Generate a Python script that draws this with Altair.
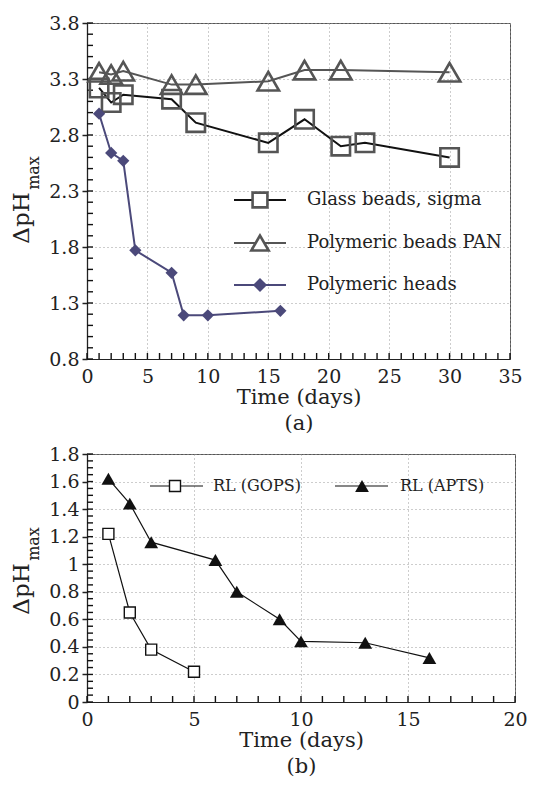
import altair as alt
import pandas as pd

FONT = "DejaVu Serif"
INK = "#222222"

# ---------------- Panel (a) data ----------------
glass_days = [1, 2, 3, 7, 9, 15, 18, 21, 23, 30]
glass_dph = [3.22, 3.09, 3.16, 3.12, 2.91, 2.73, 2.94, 2.70, 2.73, 2.60]
pan_days = [1, 2, 3, 7, 9, 15, 18, 21, 30]
pan_dph = [3.36, 3.34, 3.37, 3.25, 3.25, 3.28, 3.38, 3.38, 3.36]
heads_days = [1, 2, 3, 4, 7, 8, 10, 16]
heads_dph = [2.99, 2.64, 2.57, 1.77, 1.57, 1.19, 1.19, 1.23]
labels_a = ["Glass beads, sigma", "Polymeric beads PAN", "Polymeric heads"]
x_ticks_a = [0, 5, 10, 15, 20, 25, 30, 35]
x_minor_a = [float(v) for v in range(0, 36)]
y_ticks_a = [0.8, 1.3, 1.8, 2.3, 2.8, 3.3, 3.8]
y_minor_a = [round(0.8 + 0.1 * i, 2) for i in range(31)]

# ---------------- Panel (b) data ----------------
gops_days = [1, 2, 3, 5]
gops_dph = [1.22, 0.65, 0.38, 0.22]
apts_days = [1, 2, 3, 6, 7, 9, 10, 13, 16]
apts_dph = [1.62, 1.44, 1.16, 1.03, 0.80, 0.60, 0.44, 0.43, 0.32]
labels_b = ["RL (GOPS)", "RL (APTS)"]
x_ticks_b = [0, 5, 10, 15, 20]
x_minor_b = [float(v) for v in range(0, 21)]
y_ticks_b = [0, 0.2, 0.4, 0.6, 0.8, 1, 1.2, 1.4, 1.6, 1.8]
y_minor_b = [round(0.05 * i, 2) for i in range(37)]

one = pd.DataFrame({"k": [0]})
LBL = 19


def df(days, vals):
    return pd.DataFrame({"day": days, "dph": vals})


def main_x(domain, ticks, title):
    return alt.X("day:Q", scale=alt.Scale(domain=domain, nice=False, zero=False),
                 axis=alt.Axis(values=ticks, grid=True, gridDash=[1, 3], gridColor="#9a9a9a",
                               ticks=False, domain=True, domainColor=INK,
                               labelFont=FONT, labelFontSize=LBL, labelColor=INK,
                               labelPadding=8, labelFlush=False, labelOverlap=False,
                               title=title, titleFont=FONT, titleFontSize=21,
                               titleFontWeight=400, titleColor=INK,
                               titleLineHeight=26, titlePadding=0))


def main_y(domain, ticks, fmt):
    return alt.Y("dph:Q", scale=alt.Scale(domain=domain, nice=False, zero=False),
                 axis=alt.Axis(values=ticks, grid=True, gridDash=[1, 3], gridColor="#9a9a9a",
                               ticks=True, tickSize=5, tickColor=INK, tickWidth=1.5,
                               domain=True, domainColor=INK, domainWidth=1.3,
                               labelFont=FONT, labelFontSize=LBL, labelColor=INK, format=fmt,
                               labelPadding=3, labelFlush=False, labelOverlap=False, title=None))


def plain_x(domain):
    return alt.X("day:Q", scale=alt.Scale(domain=domain, nice=False, zero=False), axis=None)


def plain_y(domain):
    return alt.Y("dph:Q", scale=alt.Scale(domain=domain, nice=False, zero=False), axis=None)


def minor_ticks(xdom, ydom, xminor, yminor, height):
    tx = alt.Chart(pd.DataFrame({"day": xminor, "dph": [ydom[0]] * len(xminor)})).mark_rule(
        color="#111111", strokeWidth=1.4, opacity=1).encode(
        x=plain_x(xdom), y=alt.value(height), y2=alt.value(height - 6))
    ty = alt.Chart(pd.DataFrame({"dph": yminor, "day": [xdom[0]] * len(yminor)})).mark_rule(
        color="#111111", strokeWidth=1.4, opacity=1).encode(
        y=plain_y(ydom), x=alt.value(0), x2=alt.value(6))
    return [tx, ty]


def legend_entry(x0, x1, xm, xt, y, lcolor, lwidth, shape, size, mcolor, filled, mwidth, label, fs):
    rule = alt.Chart(one).mark_rule(color=lcolor, strokeWidth=lwidth).encode(
        x=alt.value(x0), x2=alt.value(x1), y=alt.value(y))
    pt = alt.Chart(one).mark_point(shape=shape, size=size, color=mcolor, filled=filled,
                                   strokeWidth=mwidth, opacity=1, fill=mcolor if filled else "white"
                                   ).encode(x=alt.value(xm), y=alt.value(y))
    txt = alt.Chart(one).mark_text(text=label, align="left", baseline="middle", font=FONT,
                                   fontSize=fs, color=INK).encode(x=alt.value(xt), y=alt.value(y))
    return [rule, pt, txt]


def ytitle(xc, yc, xs, ys):
    a = alt.Chart(one).mark_text(text="\u0394pH", angle=270, align="center", baseline="middle",
                                 font=FONT, fontSize=23, color=INK).encode(
        x=alt.value(xc), y=alt.value(yc))
    b = alt.Chart(one).mark_text(text="max", angle=270, align="center", baseline="middle",
                                 font=FONT, fontSize=16, color=INK).encode(
        x=alt.value(xs), y=alt.value(ys))
    return [a, b]


# ---------------- Panel (a) ----------------
XA = [0, 35]
YA = [0.8, 3.8]
HA = 336
GRAY = "#555555"
PURP = "#4b497a"
dg, dp, dh = df(glass_days, glass_dph), df(pan_days, pan_dph), df(heads_days, heads_dph)

a_layers = [
    alt.Chart(dg).mark_line(color="#111111", strokeWidth=2).encode(
        x=main_x(XA, x_ticks_a, ["Time (days)", "(a)"]), y=main_y(YA, y_ticks_a, ".1f")),
]
a_layers += minor_ticks(XA, YA, x_minor_a, y_minor_a, HA)
a_layers += [
    alt.Chart(dg).mark_point(shape="square", size=340, filled=False, color=GRAY, strokeWidth=2.6,
                             opacity=1).encode(x=plain_x(XA), y=plain_y(YA)),
    alt.Chart(dp).mark_line(color=GRAY, strokeWidth=2).encode(x=plain_x(XA), y=plain_y(YA)),
    alt.Chart(dp).mark_point(shape="triangle-up", size=460, filled=False, color=GRAY,
                             strokeWidth=2.6, opacity=1).encode(x=plain_x(XA), y=plain_y(YA)),
    alt.Chart(dh).mark_line(color=PURP, strokeWidth=2).encode(x=plain_x(XA), y=plain_y(YA)),
    alt.Chart(dh).mark_point(shape="diamond", size=150, filled=True, color=PURP,
                             opacity=1).encode(x=plain_x(XA), y=plain_y(YA)),
]
a_layers += legend_entry(147, 199, 173, 220, 177, "#111111", 2.2, "square", 220, GRAY, False, 2.6,
                         labels_a[0], 18)
a_layers += legend_entry(147, 199, 173, 220, 220, GRAY, 2.2, "triangle-up", 300, GRAY, False, 2.6,
                         labels_a[1], 18)
a_layers += legend_entry(147, 199, 173, 220, 262, PURP, 2.2, "diamond", 200, PURP, True, 1,
                         labels_a[2], 18)
a_layers += ytitle(-65, 195, -53, 150)

top = alt.layer(*a_layers).resolve_axis(x="independent", y="independent").properties(
    width=423, height=HA)

# ---------------- Panel (b) ----------------
XB = [0, 20]
YB = [0, 1.8]
HB = 248
dgo, dap = df(gops_days, gops_dph), df(apts_days, apts_dph)
b_layers = [
    alt.Chart(dgo).mark_line(color="#111111", strokeWidth=1.2).encode(
        x=main_x(XB, x_ticks_b, ["Time (days)", "(b)"]), y=main_y(YB, y_ticks_b, "~g")),
]
b_layers += minor_ticks(XB, YB, x_minor_b, y_minor_b, HB)
b_layers += [
    alt.Chart(dgo).mark_point(shape="square", size=121, filled=False, color="#111111",
                              strokeWidth=1.4, opacity=1, fill="white").encode(
        x=plain_x(XB), y=plain_y(YB)),
    alt.Chart(dap).mark_line(color="#111111", strokeWidth=1.2).encode(x=plain_x(XB), y=plain_y(YB)),
    alt.Chart(dap).mark_point(shape="triangle-up", size=190, filled=True, color="#111111",
                              opacity=1).encode(x=plain_x(XB), y=plain_y(YB)),
]
b_layers += legend_entry(63, 116, 88, 126, 32, "#111111", 1.2, "square", 121, "#111111", False, 1.4,
                         labels_b[0], 16)
b_layers += legend_entry(248, 301, 275, 313, 32, "#111111", 1.2, "triangle-up", 190, "#111111", True,
                         1, labels_b[1], 16)
b_layers += ytitle(-65, 135, -53, 90)

bottom = alt.layer(*b_layers).resolve_axis(x="independent", y="independent").properties(
    width=428, height=HB)

chart = alt.vconcat(top, bottom, spacing=10).properties(
    padding={"left": 2, "top": 5, "right": 5, "bottom": 5}, background="white"
).configure_view(stroke="#555555", strokeWidth=1)

chart.save("out.html", embed_options={"renderer": "svg", "actions": False})
